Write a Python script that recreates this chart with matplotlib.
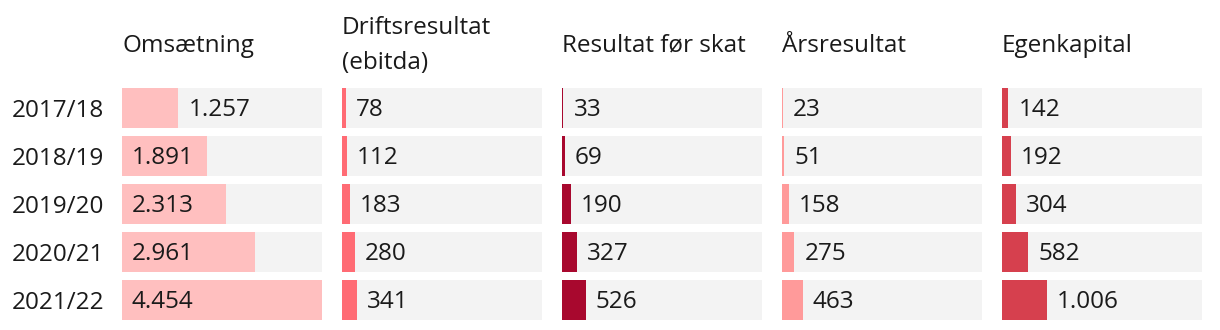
import matplotlib.pyplot as plt

plt.rcParams['font.family'] = ['Open Sans', 'DejaVu Sans']

# data (mio. kr.)
years = ['2017/18', '2018/19', '2019/20', '2020/21', '2021/22']
headers = ['Omsætning', 'Driftsresultat\n(ebitda)', 'Resultat før skat',
           'Årsresultat', 'Egenkapital']
omsaetning = [1257, 1891, 2313, 2961, 4454]
driftsresultat = [78, 112, 183, 280, 341]
resultat_foer_skat = [33, 69, 190, 327, 526]
aarsresultat = [23, 51, 158, 275, 463]
egenkapital = [142, 192, 304, 582, 1006]

series = [omsaetning, driftsresultat, resultat_foer_skat, aarsresultat, egenkapital]
colors = ['#ffbfbf', '#ff6b74', '#a8082e', '#ff9a9a', '#d6404e']
bg_color = '#f3f3f3'
text_color = '#1a1a1a'
fs = 17.5


def fmt(v):
    # danish thousands separator
    return f'{v:,}'.replace(',', '.')


W, H, DPI = 1220, 330, 100
fig = plt.figure(figsize=(W / DPI, H / DPI), dpi=DPI)
renderer = fig.canvas.get_renderer()

vmax = max(max(s) for s in series)
n = len(years)
row = 48.0
bar_h = 40.0
top, bottom = 88, 320
col_w, col_gap, left0 = 200, 20, 122
pad = 10

for i, (vals, name, color) in enumerate(zip(series, headers, colors)):
    x0 = left0 + i * (col_w + col_gap)
    ax = fig.add_axes([x0 / W, (H - bottom) / H, col_w / W, (bottom - top) / H])
    ypos = list(range(n))
    ax.barh(ypos, [vmax] * n, height=bar_h / row, color=bg_color)
    ax.barh(ypos, vals, height=bar_h / row, color=color)
    ax.set_xlim(0, vmax)
    ax.set_ylim(n - 1 + (bar_h / 2) / row, -(bar_h / 2) / row)
    for s in ax.spines.values():
        s.set_visible(False)
    ax.set_xticks([])
    if i == 0:
        ax.set_yticks(ypos)
        ax.set_yticklabels(years, fontsize=fs, color=text_color)
        ax.tick_params(axis='y', length=0, pad=13)
    else:
        ax.set_yticks([])

    for y, v in zip(ypos, vals):
        t = ax.annotate(fmt(v), (v, y), xytext=(pad * 72 / DPI, -1.2),
                        textcoords='offset points', ha='left', va='center',
                        fontsize=fs, color=text_color)
        tw = t.get_window_extent(renderer).width
        bw = v / vmax * col_w
        if bw > tw + 2 * pad:
            t.xy = (0, y)

    ax.annotate(name, (0, 1), xycoords='axes fraction', xytext=(0, 30.5),
                textcoords='offset points', ha='left', va='center',
                fontsize=fs, color=text_color, linespacing=1.6)

fig.savefig('out.png', dpi=DPI, facecolor='white')
